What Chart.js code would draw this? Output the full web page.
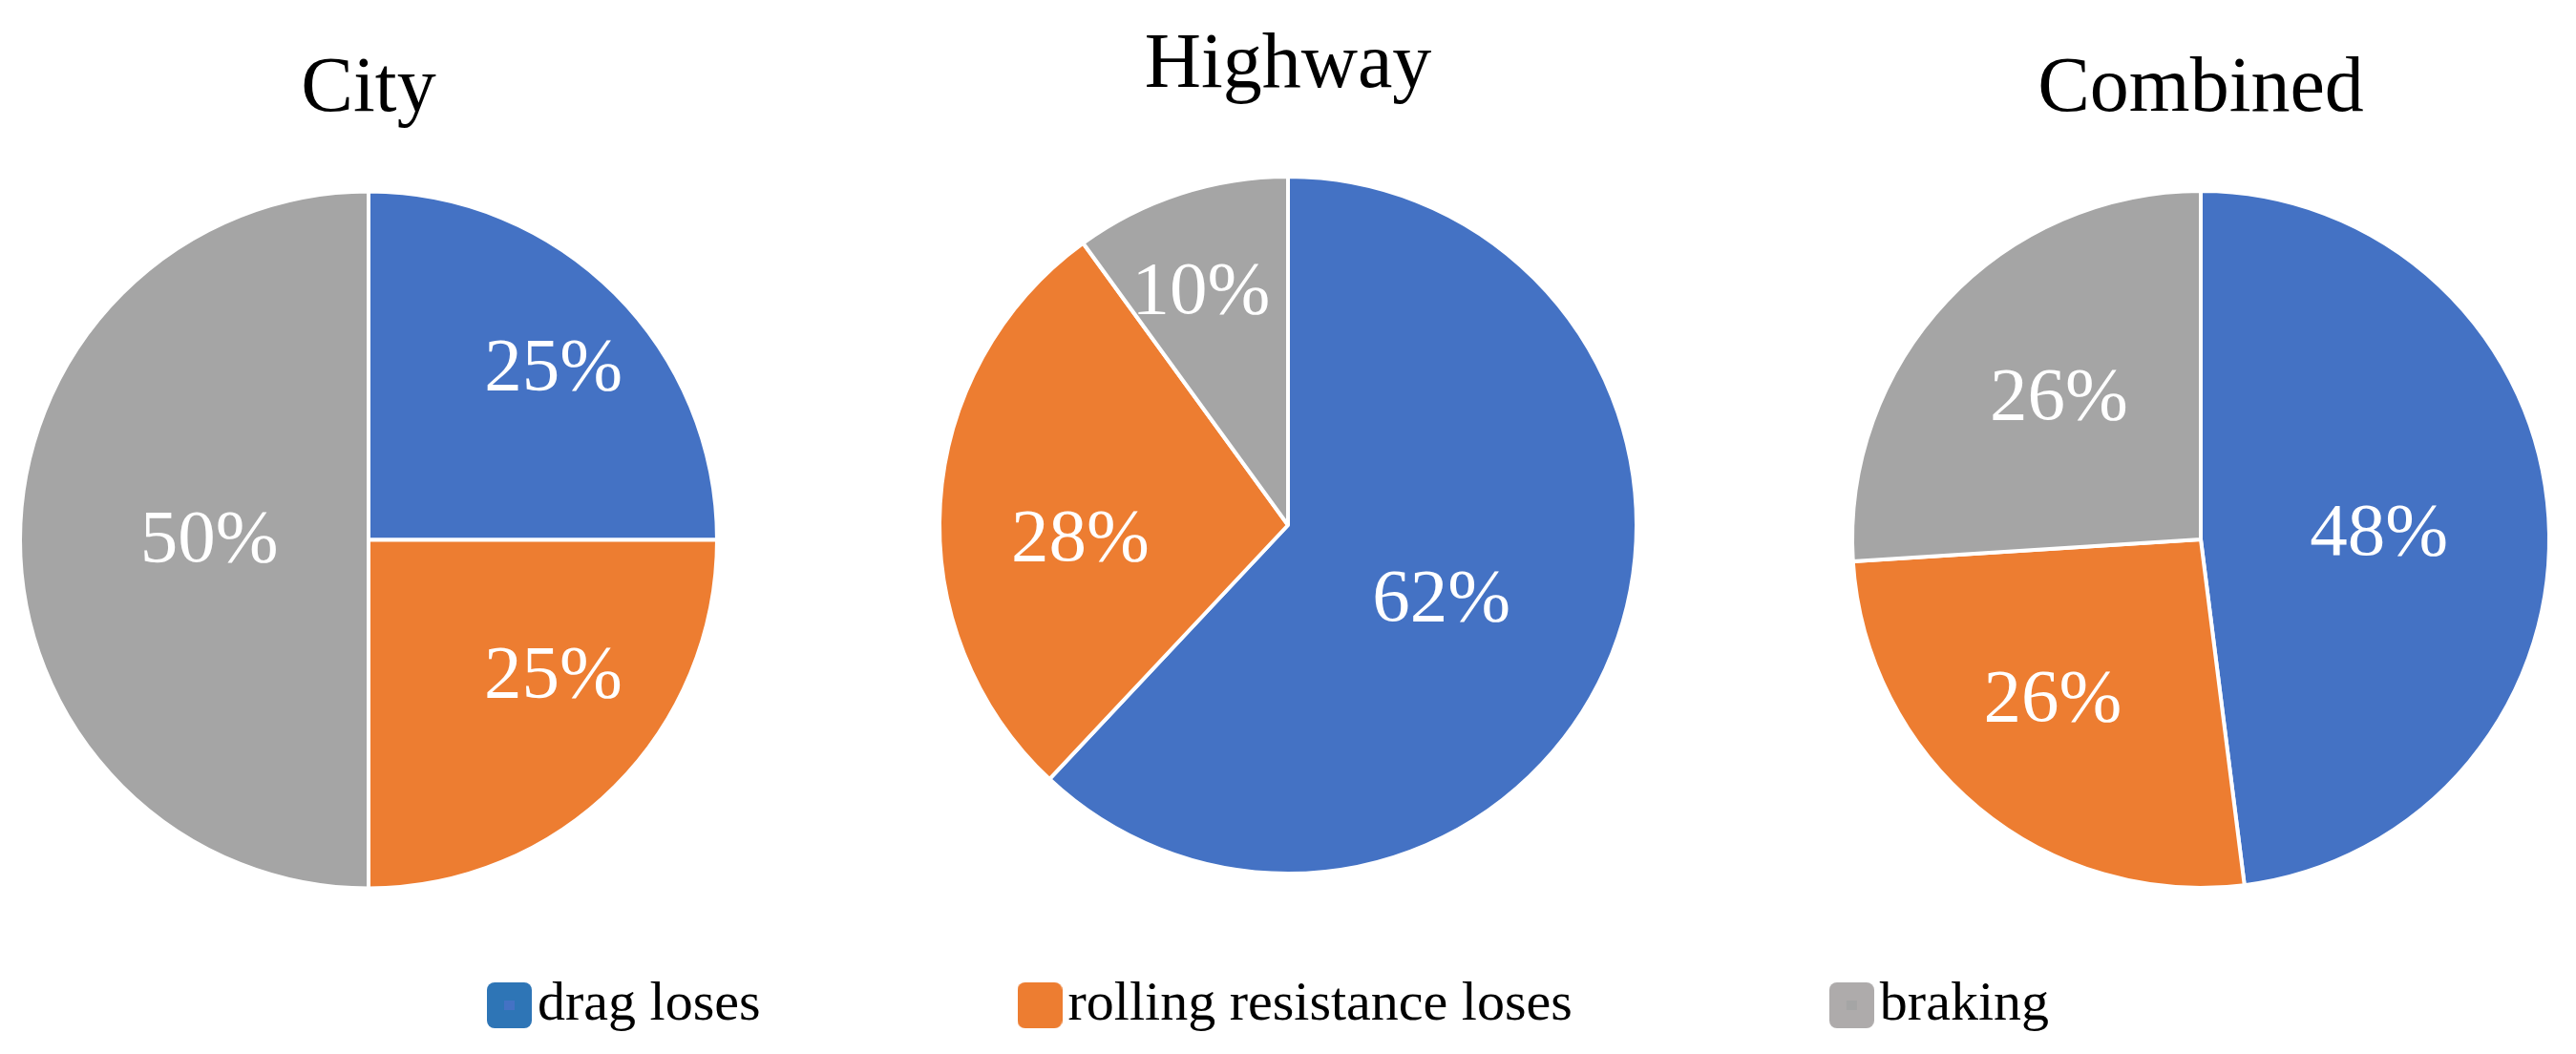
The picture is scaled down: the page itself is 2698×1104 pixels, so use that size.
<!DOCTYPE html>
<html>
<head>
<meta charset="utf-8">
<script src="https://cdn.jsdelivr.net/npm/chart.js@4.4.1/dist/chart.umd.min.js"></script>
<style>
html, body { margin: 0; padding: 0; background: #ffffff; overflow: hidden; }
#wrap { position: relative; width: 2698px; height: 1104px; overflow: hidden; background: #ffffff; }
#wrap canvas { position: absolute; top: 0; }
</style>
</head>
<body>
<div id="wrap">
  <canvas id="cityChart" width="800" height="1104" style="left:-14px"></canvas>
  <canvas id="highwayChart" width="800" height="1104" style="left:949px"></canvas>
  <canvas id="combinedChart" width="800" height="1104" style="left:1905px"></canvas>
  <canvas id="legendChart" width="2698" height="1104" style="left:0px"></canvas>
</div>
<script>
// ---- data ----
const categories = ['drag loses', 'rolling resistance loses', 'braking'];
const chartTitles = ['City', 'Highway', 'Combined'];
const cityValues = [25, 25, 50];
const highwayValues = [62, 28, 10];
const combinedValues = [48, 26, 26];

// ---- styles ----
const FONT = "'Liberation Serif', 'Times New Roman', serif";
const sliceColors = ['#4472C4', '#ED7D31', '#A5A5A5'];
const legendColors = ['#2E75B6', '#ED7D31', '#AEABAB'];
const legendInner = ['#4472C4', null, '#A5A5A5'];
// label placement per slice: [radius fraction, angle shift in degrees]
const cityLabelPlace = [[0.733, 1.4], [0.650, -9.6], [0.457, 1.5]];
const highwayLabelPlace = [[0.484, 2.9], [0.597, -6.2], [0.726, -2.1]];
const combinedLabelPlace = [[0.512, 0.2], [0.617, 3.9], [0.583, 2.5]];
const LABEL_SIZE = 79;

function makeLabelPlugin(place) {
  return {
    id: 'pctLabels',
    afterDatasetsDraw(chart) {
      const ctx = chart.ctx;
      const meta = chart.getDatasetMeta(0);
      const vals = chart.data.datasets[0].data;
      const total = vals.reduce((a, b) => a + b, 0);
      ctx.save();
      ctx.font = LABEL_SIZE + 'px ' + FONT;
      ctx.fillStyle = '#ffffff';
      ctx.textAlign = 'center';
      ctx.textBaseline = 'alphabetic';
      meta.data.forEach((arc, i) => {
        const p = arc.getProps(['x', 'y', 'startAngle', 'endAngle', 'outerRadius'], true);
        const a = (p.startAngle + p.endAngle) / 2 + place[i][1] * Math.PI / 180;
        const r = p.outerRadius * place[i][0];
        const cx = p.x + Math.cos(a) * r;
        const cy = p.y + Math.sin(a) * r;
        ctx.fillText(Math.round(vals[i] / total * 100) + '%', cx, cy + LABEL_SIZE * 0.338);
      });
      ctx.restore();
    }
  };
}

function makePie(id, title, values, titlePadTop, bottomPad, place) {
  return new Chart(document.getElementById(id), {
    type: 'pie',
    data: {
      labels: categories,
      datasets: [{
        data: values,
        backgroundColor: sliceColors,
        borderColor: '#ffffff',
        borderWidth: 4,
        clip: false
      }]
    },
    options: {
      responsive: false,
      animation: false,
      devicePixelRatio: 1,
      radius: 365,
      events: [],
      layout: { padding: { top: 0, bottom: bottomPad, left: 0, right: 0 } },
      plugins: {
        legend: { display: false },
        tooltip: { enabled: false },
        title: {
          display: true,
          text: title,
          color: '#000000',
          font: { family: FONT, size: 82, weight: 'normal', lineHeight: 1.2 },
          padding: { top: titlePadTop, bottom: 20 }
        }
      }
    },
    plugins: [makeLabelPlugin(place)]
  });
}

makePie('cityChart', chartTitles[0], cityValues, 45, 136.4, cityLabelPlace);
makePie('highwayChart', chartTitles[1], highwayValues, 20, 142.4, highwayLabelPlace);
makePie('combinedChart', chartTitles[2], combinedValues, 45, 137.4, combinedLabelPlace);

// ---- shared legend ----
function keyImage(fill, inner) {
  const c = document.createElement('canvas');
  c.width = 47; c.height = 48;
  const g = c.getContext('2d');
  g.fillStyle = fill;
  g.beginPath();
  if (g.roundRect) { g.roundRect(0, 0, 47, 48, 8); } else { g.rect(0, 0, 47, 48); }
  g.fill();
  if (inner) { g.fillStyle = inner; g.fillRect(18, 19, 11, 10); }
  return c;
}
const keyImgs = legendColors.map((c, i) => keyImage(c, legendInner[i]));

new Chart(document.getElementById('legendChart'), {
  type: 'pie',
  data: {
    labels: categories,
    datasets: [{ data: combinedValues, backgroundColor: sliceColors, borderWidth: 0 }]
  },
  options: {
    responsive: false,
    animation: false,
    devicePixelRatio: 1,
    radius: 0,
    events: [],
    layout: { padding: { top: 0, bottom: 12, left: 0, right: 19 } },
    plugins: {
      tooltip: { enabled: false },
      title: { display: false },
      legend: {
        display: true,
        position: 'bottom',
        align: 'center',
        labels: {
          usePointStyle: true,
          pointStyleWidth: 1,
          padding: 292,
          color: '#000000',
          font: { family: FONT, size: 58, weight: 'normal' },
          generateLabels() {
            return categories.map((t, i) => ({
              text: t,
              fillStyle: legendColors[i],
              strokeStyle: legendColors[i],
              lineWidth: 0,
              pointStyle: keyImgs[i],
              fontColor: '#000000',
              hidden: false,
              index: i
            }));
          }
        }
      }
    }
  }
});
</script>
</body>
</html>
